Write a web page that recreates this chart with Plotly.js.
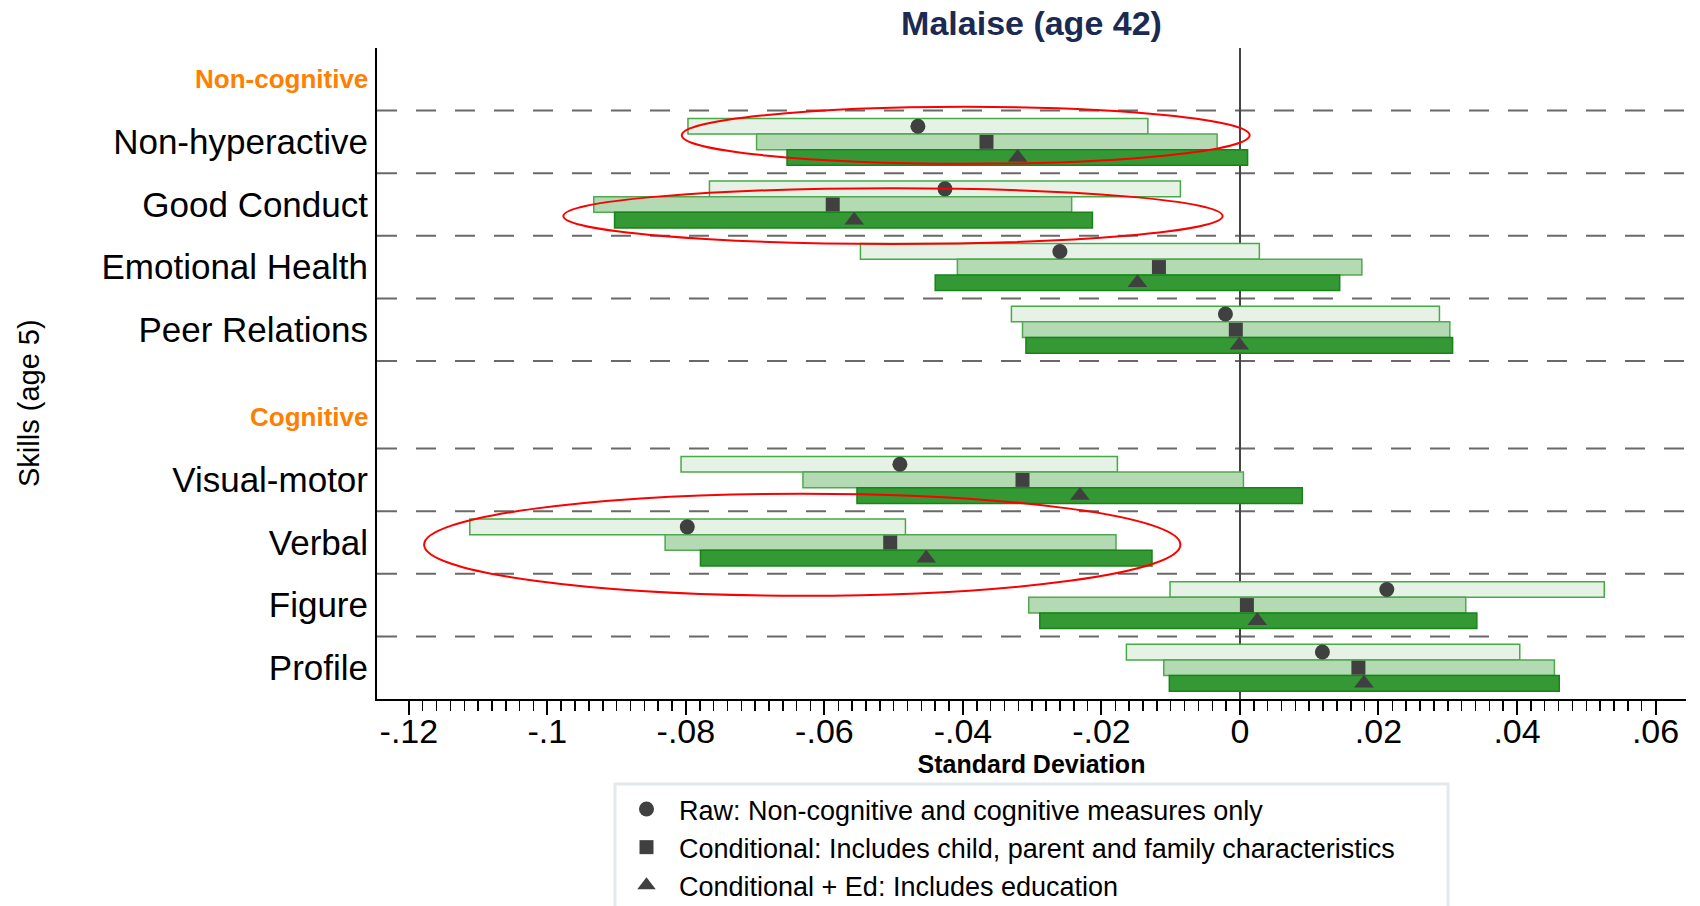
<!DOCTYPE html>
<html>
<head>
<meta charset="utf-8">
<script src="https://cdn.plot.ly/plotly-3.0.1.min.js"></script>
<style>
  html, body { margin: 0; padding: 0; background: #fff; }
  #chart { width: 1700px; height: 906px; }
</style>
</head>
<body>
<div id="chart"></div>
<script>
// ---- Data ----
const groupHeaders = ["Non-cognitive", "Cognitive"];
const skills = ["Non-hyperactive", "Good Conduct", "Emotional Health", "Peer Relations",
                "Visual-motor", "Verbal", "Figure", "Profile"];
const skillGroup = [0, 0, 0, 0, 1, 1, 1, 1];

const seriesNames = [
  "Raw: Non-cognitive and cognitive measures only",
  "Conditional: Includes child, parent and family characteristics",
  "Conditional + Ed: Includes education"
];

const rawEst  = [-0.0465, -0.0426, -0.0260, -0.0021, -0.0491, -0.0798,  0.0212,  0.0119];
const rawLo   = [-0.0797, -0.0766, -0.0548, -0.0330, -0.0807, -0.1112, -0.0101, -0.0164];
const rawHi   = [-0.0133, -0.0086,  0.0028,  0.0288, -0.0177, -0.0483,  0.0526,  0.0404];

const condEst = [-0.0366, -0.0588, -0.0117, -0.0006, -0.0314, -0.0505,  0.0010,  0.0171];
const condLo  = [-0.0698, -0.0933, -0.0408, -0.0314, -0.0631, -0.0830, -0.0305, -0.0110];
const condHi  = [-0.0033, -0.0243,  0.0176,  0.0303,  0.0005, -0.0179,  0.0326,  0.0454];

const edEst   = [-0.0321, -0.0557, -0.0148, -0.0001, -0.0231, -0.0453,  0.0025,  0.0179];
const edLo    = [-0.0654, -0.0903, -0.0440, -0.0309, -0.0553, -0.0779, -0.0289, -0.0102];
const edHi    = [ 0.0011, -0.0213,  0.0144,  0.0307,  0.0090, -0.0127,  0.0342,  0.0461];

const xTickVals = [-0.12, -0.10, -0.08, -0.06, -0.04, -0.02, 0, 0.02, 0.04, 0.06];
const xTickText = ["-.12", "-.1", "-.08", "-.06", "-.04", "-.02", "0", ".02", ".04", ".06"];

// ---- Layout helpers ----
const FONT = "Liberation Sans, Arial, Helvetica, sans-serif";
const headerPos = [0, 5.4];
const rowPos = skills.map((s, i) => skillGroup[i] === 0 ? i + 1 : i + 2.4);
const offsets = [-0.25, 0, 0.25];
const barW = 0.25;

const fills  = ["rgb(230,242,230)", "rgb(180,218,180)", "rgb(52,152,52)"];
const edges  = ["rgb(70,170,70)", "rgb(80,168,80)", "rgb(24,132,24)"];
const symbols = ["circle", "square", "triangle-up"];
const symSizes = [15, 14, 17];

const est = [rawEst, condEst, edEst];
const lo  = [rawLo, condLo, edLo];
const hi  = [rawHi, condHi, edHi];

const traces = [];
for (let s = 0; s < 3; s++) {
  traces.push({
    type: "bar", orientation: "h",
    y: rowPos.map(p => p + offsets[s]),
    base: lo[s],
    x: hi[s].map((h, i) => h - lo[s][i]),
    width: barW,
    marker: { color: fills[s], line: { color: edges[s], width: 1.5 } },
    showlegend: false, hoverinfo: "skip"
  });
}
for (let s = 0; s < 3; s++) {
  traces.push({
    type: "scatter", mode: "markers", name: seriesNames[s],
    legendgroup: "g" + s,
    x: est[s],
    y: rowPos.map(p => p + offsets[s]),
    marker: { symbol: symbols[s], size: symSizes[s], color: "#404040" },
    cliponaxis: false
  });
}

const sepPos = rowPos.map(p => p - 0.5);
sepPos.push(rowPos[3] + 0.5);
const shapes = sepPos.map(y => ({
  type: "line", xref: "paper", x0: 0, x1: 1, yref: "y", y0: y, y1: y,
  line: { color: "rgb(105,105,105)", width: 2, dash: "20px,19px" }, layer: "below"
}));

const ellipses = [
  [-0.0806, 0.0014, 0.44, 1.35],
  [-0.0977, -0.0025, 1.74, 2.63],
  [-0.1178, -0.0086, 6.62, 8.25]
];
ellipses.forEach(e => shapes.push({
  type: "circle", xref: "x", yref: "y", x0: e[0], x1: e[1], y0: e[2], y1: e[3],
  line: { color: "rgb(250,0,0)", width: 2 }, layer: "above"
}));

// legend frame
shapes.push({
  type: "rect", xref: "paper", yref: "paper", x0: 0.1818, x1: 0.8182, y0: -0.40, y1: -0.1306,
  line: { color: "rgb(226,234,238)", width: 3 }, fillcolor: "rgba(0,0,0,0)", layer: "below"
});

const minorVals = [];
for (let k = -60; k <= 30; k++) minorVals.push(Math.round(k * 2) / 1000);

const annotations = groupHeaders.map((h, i) => ({
  text: "<b>" + h + "</b>", xref: "paper", x: 0, xanchor: "right", xshift: -7,
  yref: "y", y: headerPos[i], yanchor: "middle", showarrow: false,
  font: { family: FONT, size: 26, color: "rgb(255,128,0)" }
}));
annotations.push({
  text: "Skills (age 5)", textangle: -90, showarrow: false,
  xref: "paper", x: (29 - 377) / 1309, xanchor: "center",
  yref: "paper", y: 1 - (403 - 48) / 651, yanchor: "middle",
  font: { family: FONT, size: 29, color: "#000" }
});

const layout = {
  width: 1700, height: 906,
  margin: { l: 377, r: 14, t: 48, b: 207, pad: 0, autoexpand: false },
  paper_bgcolor: "#fff", plot_bgcolor: "#fff",
  font: { family: FONT, color: "#000" },
  barmode: "overlay",
  title: {
    text: "<b>Malaise (age 42)</b>", x: 0.5, xref: "paper", y: 1 - 23 / 906, yanchor: "middle",
    font: { family: FONT, size: 34, color: "rgb(28,42,82)" }
  },
  xaxis: {
    range: [-0.1246, 0.0644], showgrid: false, automargin: false,
    zeroline: true, zerolinecolor: "#444", zerolinewidth: 2,
    showline: true, linecolor: "#000", linewidth: 2,
    tickmode: "array", tickvals: xTickVals, ticktext: xTickText,
    ticks: "outside", ticklen: 14, tickwidth: 2, tickcolor: "#000",
    ticklabelstandoff: -13,
    minor: { tickmode: "array", tickvals: minorVals, ticks: "outside", ticklen: 10, tickwidth: 1.5, tickcolor: "#000", showgrid: false },
    tickfont: { family: FONT, size: 34, color: "#000" },
    title: { text: "<b>Standard Deviation</b>", font: { family: FONT, size: 25, color: "#000" }, standoff: 0 },
    fixedrange: true
  },
  yaxis: {
    range: [9.9, -0.5], showgrid: false, zeroline: false, automargin: false,
    showline: true, linecolor: "#000", linewidth: 2,
    tickmode: "array", tickvals: rowPos, ticktext: skills, ticks: "",
    ticklabelstandoff: 0,
    tickfont: { family: FONT, size: 35, color: "#000" },
    fixedrange: true
  },
  shapes: shapes,
  annotations: annotations,
  showlegend: true,
  legend: {
    xref: "container", yref: "container",
    x: 614 / 1700, xanchor: "left", y: 1 - 785 / 906, yanchor: "top",
    orientation: "v", bgcolor: "rgba(0,0,0,0)", borderwidth: 0,
    font: { family: FONT, size: 27, color: "#000" },
    itemwidth: 55,
    tracegroupgap: 0, itemclick: false, itemdoubleclick: false
  }
};

Plotly.newPlot("chart", traces, layout, { displayModeBar: false, staticPlot: true });
</script>
</body>
</html>
